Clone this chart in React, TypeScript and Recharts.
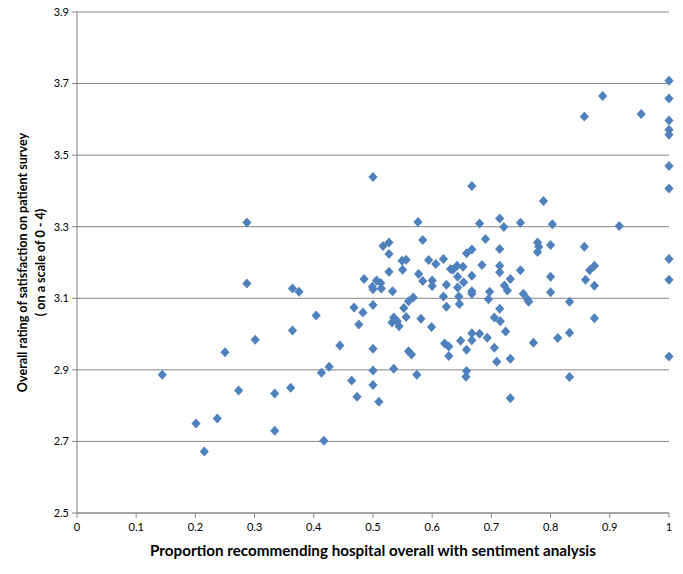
import React from "react";
import { ScatterChart, Scatter, XAxis, YAxis, CartesianGrid } from "recharts";

const proportion = [
  0.144, 0.201, 0.215, 0.237, 0.25, 0.273, 0.287, 0.287, 0.301, 0.334, 0.334, 0.361, 0.364, 0.364, 0.375, 0.404, 0.413, 0.417, 0.426, 0.444, 0.464,
  0.5, 0.576, 0.584, 0.517, 0.527, 0.527, 0.549, 0.556, 0.55, 0.594, 0.606, 0.619, 0.631, 0.527, 0.485, 0.506, 0.513, 0.499, 0.5, 0.514, 0.533,
  0.577, 0.584, 0.6, 0.6, 0.624, 0.568, 0.619, 0.468, 0.483, 0.5, 0.476, 0.552, 0.56, 0.535, 0.532, 0.541, 0.544, 0.556, 0.581, 0.599, 0.624,
  0.5, 0.56, 0.565, 0.621, 0.628, 0.628, 0.5, 0.535, 0.574, 0.5, 0.473, 0.51,
  0.667, 0.788, 0.68, 0.714, 0.721, 0.749, 0.69, 0.658, 0.667, 0.714, 0.778, 0.78, 0.778, 0.8, 0.642, 0.652, 0.635, 0.684, 0.714, 0.714, 0.749,
  0.643, 0.667, 0.732, 0.8, 0.643, 0.653, 0.667, 0.667, 0.697, 0.722, 0.727, 0.754, 0.763, 0.761, 0.8, 0.645, 0.695, 0.646, 0.714, 0.705, 0.715,
  0.724, 0.667, 0.68, 0.693, 0.667, 0.648, 0.658, 0.705, 0.709, 0.732, 0.771, 0.658, 0.657, 0.732,
  1.0, 1.0, 0.803, 0.916, 0.857, 0.874, 0.866, 1.0, 0.859, 0.874, 1.0, 0.832, 0.874, 0.832, 0.812, 1.0, 0.832, 1.0, 1.0, 0.888, 0.857, 0.953,
  1.0, 1.0, 1.0,
];

const rating = [
  2.886, 2.75, 2.672, 2.764, 2.949, 2.842, 3.141, 3.312, 2.984, 2.834, 2.73, 2.85, 3.127, 3.01, 3.118, 3.052, 2.892, 2.702, 2.909, 2.968, 2.87,
  3.439, 3.313, 3.263, 3.246, 3.256, 3.224, 3.205, 3.208, 3.18, 3.207, 3.196, 3.21, 3.182, 3.174, 3.154, 3.15, 3.143, 3.132, 3.125, 3.127, 3.12,
  3.168, 3.148, 3.15, 3.134, 3.138, 3.102, 3.105, 3.074, 3.06, 3.081, 3.027, 3.073, 3.092, 3.046, 3.032, 3.036, 3.022, 3.048, 3.043, 3.02, 3.076,
  2.959, 2.952, 2.943, 2.974, 2.965, 2.939, 2.898, 2.903, 2.886, 2.858, 2.825, 2.811,
  3.414, 3.372, 3.309, 3.323, 3.299, 3.311, 3.266, 3.226, 3.236, 3.238, 3.256, 3.244, 3.229, 3.249, 3.191, 3.188, 3.18, 3.193, 3.191, 3.173, 3.178,
  3.16, 3.163, 3.154, 3.16, 3.13, 3.145, 3.12, 3.113, 3.118, 3.136, 3.122, 3.113, 3.09, 3.097, 3.117, 3.105, 3.097, 3.084, 3.071, 3.046, 3.036,
  3.007, 3.002, 3.001, 2.99, 2.983, 2.981, 2.956, 2.962, 2.923, 2.931, 2.976, 2.897, 2.881, 2.821,
  3.47, 3.407, 3.307, 3.302, 3.244, 3.191, 3.178, 3.21, 3.152, 3.135, 3.152, 3.09, 3.044, 3.004, 2.989, 2.937, 2.88, 3.708, 3.658, 3.665, 3.608, 3.615,
  3.597, 3.571, 3.557,
];

const xTicks = [0, 0.1, 0.2, 0.3, 0.4, 0.5, 0.6, 0.7, 0.8, 0.9, 1];
const yTicks = [2.5, 2.7, 2.9, 3.1, 3.3, 3.5, 3.7, 3.9];

const xTitle = "Proportion recommending hospital overall with sentiment analysis";
const yTitle1 = "Overall rating of satisfaction on patient survey";
const yTitle2 = "( on a scale of 0 -  4)";

const data = proportion.map((p, i) => ({ x: p, y: rating[i] }));

const FONT = "Lato, Carlito, Calibri, 'Liberation Sans', sans-serif";
const AXIS = "#868686";
const MARK = "#4F81BD";

const Diamond = (props: any) => {
  const { cx, cy } = props;
  if (cx == null || cy == null) return null;
  return (
    <path
      d={`M${cx},${cy - 5} L${cx + 4.6},${cy} L${cx},${cy + 5} L${cx - 4.6},${cy} Z`}
      fill={MARK}
    />
  );
};

const YLabel = (props: any) => {
  const vb = props.viewBox || {};
  const cy = (vb.y || 0) + (vb.height || 0) / 2;
  return (
    <g>
      <text
        x={14}
        y={cy}
        transform={`rotate(-90, 14, ${cy})`}
        textAnchor="middle"
        dominantBaseline="central"
        fontFamily={FONT}
        fontWeight="bold"
        fontSize={12.6}
        fill="#000"
      >
        {yTitle1}
      </text>
      <text
        x={32}
        y={cy}
        transform={`rotate(-90, 32, ${cy})`}
        textAnchor="middle"
        dominantBaseline="central"
        fontFamily={FONT}
        fontWeight="bold"
        fontSize={12.6}
        fill="#000"
      >
        {yTitle2}
      </text>
    </g>
  );
};

const XLabel = (props: any) => {
  const vb = props.viewBox || {};
  const cx = (vb.x || 0) + (vb.width || 0) / 2;
  return (
    <text
      x={cx}
      y={546}
      textAnchor="middle"
      dominantBaseline="central"
      fontFamily={FONT}
      fontWeight="bold"
      fontSize={15.2}
      fill="#000"
    >
      {xTitle}
    </text>
  );
};

export default function App() {
  return (
    <div style={{ width: 675, height: 570, marginTop: -4, fontFamily: FONT }}>
      <ScatterChart width={675} height={570} margin={{ top: 8, right: 14, bottom: 11, left: 0 }}>
        <CartesianGrid vertical={false} stroke={AXIS} strokeWidth={1} />
        <XAxis
          type="number"
          dataKey="x"
          domain={[0, 1]}
          ticks={xTicks}
          interval={0}
          height={50}
          stroke={AXIS}
          tickSize={5}
          tickMargin={5}
          tick={{ fill: "#000", fontSize: 11, fontFamily: FONT }}
          tickFormatter={(v: number) => String(v)}
          label={<XLabel />}
        />
        <YAxis
          type="number"
          dataKey="y"
          domain={[2.5, 3.9]}
          ticks={yTicks}
          interval={0}
          width={69}
          stroke={AXIS}
          tickSize={5}
          tickMargin={3}
          tick={{ fill: "#000", fontSize: 11, fontFamily: FONT }}
          tickFormatter={(v: number) => v.toFixed(1)}
          label={<YLabel />}
        />
        <Scatter data={data} shape={<Diamond />} isAnimationActive={false} />
      </ScatterChart>
    </div>
  );
}
